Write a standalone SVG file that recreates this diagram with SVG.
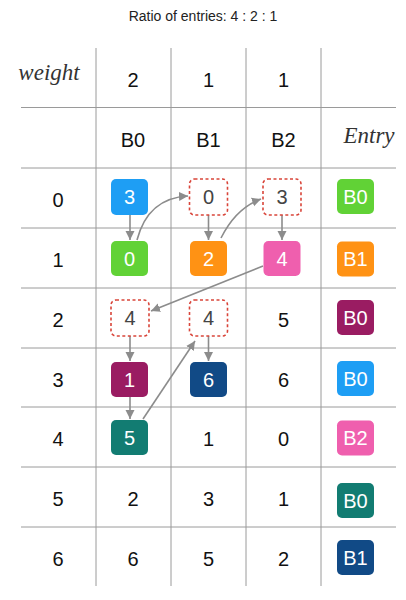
<svg xmlns="http://www.w3.org/2000/svg" width="406" height="600" viewBox="0 0 406 600">
<style>
.g{stroke:#9a9a9a;stroke-width:1;fill:none}
.t{font-family:"Liberation Sans",Arial,sans-serif;font-size:20px;fill:#111;text-anchor:middle}
.w{font-family:"Liberation Sans",Arial,sans-serif;font-size:20px;fill:#fff;text-anchor:middle}
.d{font-family:"Liberation Sans",Arial,sans-serif;font-size:20px;fill:#444;text-anchor:middle}
.i{font-family:"Liberation Serif","Times New Roman",serif;font-style:italic;font-size:23px;fill:#333;text-anchor:middle}
.dash{fill:#fff;stroke:#d9453a;stroke-width:1.6;stroke-dasharray:3 2.5}
.a{stroke:#8c8c8c;stroke-width:1.6;fill:none;marker-end:url(#ah)}
</style>
<defs>
<marker id="ah" markerUnits="userSpaceOnUse" markerWidth="10" markerHeight="10" refX="9" refY="5" orient="auto">
<path d="M0,0.5 L9,5 L0,9.5 z" fill="#8c8c8c"/>
</marker>
</defs>
<rect width="406" height="600" fill="#fff"/>
<text x="203" y="21" style="font-family:'Liberation Sans',Arial,sans-serif;font-size:14px;fill:#222;text-anchor:middle">Ratio of entries: 4 : 2 : 1</text>
<g id="grid">
<path class="g" d="M96,48V586M171,48V586M246,48V586M321,48V586"/>
<path class="g" d="M21,107.5H396M21,168H396M21,228H396M21,288H396M21,348H396M21,407H396M21,467H396M21,527H396"/>
</g>
<g id="headers">
<text class="i" x="49" y="80">weight</text>
<text class="t" x="133" y="87">2</text>
<text class="t" x="208.5" y="87">1</text>
<text class="t" x="283.5" y="87">1</text>
<text class="t" x="133" y="147">B0</text>
<text class="t" x="208.5" y="147">B1</text>
<text class="t" x="283.5" y="147">B2</text>
<text class="i" x="369" y="143">Entry</text>
</g>
<g id="rowlabels">
<text class="t" x="58" y="207">0</text>
<text class="t" x="58" y="267">1</text>
<text class="t" x="58" y="327">2</text>
<text class="t" x="58" y="387">3</text>
<text class="t" x="58" y="446">4</text>
<text class="t" x="58" y="506">5</text>
<text class="t" x="58" y="566">6</text>
</g>
<g id="plain">
<text class="t" x="283.5" y="327">5</text>
<text class="t" x="283.5" y="387">6</text>
<text class="t" x="208.5" y="446">1</text>
<text class="t" x="283.5" y="446">0</text>
<text class="t" x="133" y="506">2</text>
<text class="t" x="208.5" y="506">3</text>
<text class="t" x="283.5" y="506">1</text>
<text class="t" x="133" y="566">6</text>
<text class="t" x="208.5" y="566">5</text>
<text class="t" x="283.5" y="566">2</text>
</g>
<g id="connectors">
<path class="a" d="M130,215V240"/>
<path class="a" d="M137,240Q148,198 188,196"/>
<path class="a" d="M208.5,215V240"/>
<path class="a" d="M221,238Q236,208 261,199"/>
<path class="a" d="M282,215V240"/>
<path class="a" d="M263,266L151,311"/>
<path class="a" d="M130,336V361"/>
<path class="a" d="M130,397V419"/>
<path class="a" d="M143,419L195,341"/>
<path class="a" d="M208.5,336V361"/>
</g>
<g id="n-b0-r0"><rect x="111" y="179" width="37" height="36" rx="5" fill="#1e9ef4"/><text class="w" x="129.5" y="204">3</text></g>
<g id="n-b0-r1"><rect x="111" y="241" width="37" height="35" rx="5" fill="#61d236"/><text class="w" x="129.5" y="265.5">0</text></g>
<g id="n-b1-r0"><rect x="189.5" y="179" width="38" height="36" rx="5" class="dash"/><text class="d" x="208.5" y="204">0</text></g>
<g id="n-b1-r1"><rect x="190" y="241" width="37" height="35" rx="5" fill="#ff9214"/><text class="w" x="208.5" y="265.5">2</text></g>
<g id="n-b2-r0"><rect x="263" y="179" width="38" height="36" rx="5" class="dash"/><text class="d" x="282" y="204">3</text></g>
<g id="n-b2-r1"><rect x="263.5" y="241" width="37" height="35" rx="5" fill="#ef5fae"/><text class="w" x="282" y="265.5">4</text></g>
<g id="n-b0-r2"><rect x="111" y="300" width="38" height="36" rx="5" class="dash"/><text class="d" x="130" y="325">4</text></g>
<g id="n-b1-r2"><rect x="189.5" y="300" width="38" height="36" rx="5" class="dash"/><text class="d" x="208.5" y="325">4</text></g>
<g id="n-b0-r3"><rect x="111" y="362" width="37" height="35" rx="5" fill="#9a1c62"/><text class="w" x="129.5" y="386.5">1</text></g>
<g id="n-b1-r3"><rect x="190" y="362" width="37" height="35" rx="5" fill="#114a86"/><text class="w" x="208.5" y="386.5">6</text></g>
<g id="n-b0-r4"><rect x="111" y="420" width="37" height="35" rx="5" fill="#127c72"/><text class="w" x="129.5" y="444.5">5</text></g>
<g id="entry0"><rect x="337" y="179" width="37" height="35" rx="5" fill="#61d236"/><text class="w" x="355.5" y="203.5">B0</text></g>
<g id="entry1"><rect x="337" y="241.5" width="37" height="35" rx="5" fill="#ff9214"/><text class="w" x="355.5" y="266">B1</text></g>
<g id="entry2"><rect x="337" y="300" width="37" height="35" rx="5" fill="#9a1c62"/><text class="w" x="355.5" y="324.5">B0</text></g>
<g id="entry3"><rect x="337" y="361" width="37" height="35" rx="5" fill="#1e9ef4"/><text class="w" x="355.5" y="385.5">B0</text></g>
<g id="entry4"><rect x="337" y="420.5" width="37" height="35" rx="5" fill="#ef5fae"/><text class="w" x="355.5" y="445">B2</text></g>
<g id="entry5"><rect x="337" y="483" width="37" height="35" rx="5" fill="#127c72"/><text class="w" x="355.5" y="507.5">B0</text></g>
<g id="entry6"><rect x="337" y="540" width="37" height="35" rx="5" fill="#114a86"/><text class="w" x="355.5" y="564.5">B1</text></g>
</svg>
